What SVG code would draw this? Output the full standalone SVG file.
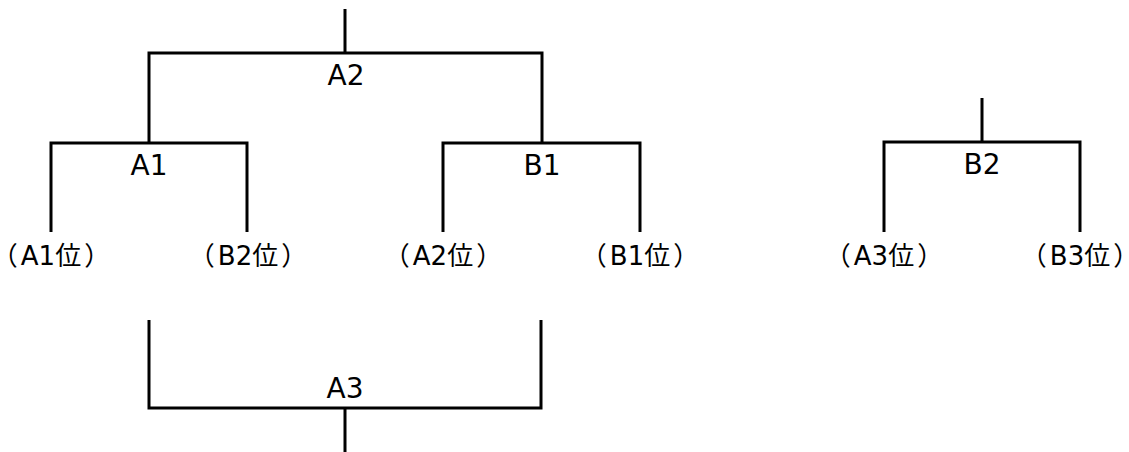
<svg xmlns="http://www.w3.org/2000/svg" width="1129" height="452" viewBox="0 0 1129 452">
<style>
.ln{fill:none;stroke:#000;stroke-width:3;stroke-linecap:butt;stroke-linejoin:miter}
.t{font-family:"DejaVu Sans","Noto Sans CJK JP",sans-serif;font-size:28px;fill:#000;text-anchor:middle}
.p{font-family:"DejaVu Sans","Noto Sans CJK JP",sans-serif;font-size:26px;fill:#000;text-anchor:middle;font-feature-settings:"palt" 1}
</style>
<rect width="1129" height="452" fill="#fff"/>
<g id="connectors">
<path class="ln" d="M345 9V53M149 143V53H542V143"/>
<path class="ln" d="M51 232V143H247V232"/>
<path class="ln" d="M443 232V143H640V232"/>
<path class="ln" d="M149 320V408H541V320M345 408V452"/>
<path class="ln" d="M982 98V142M884 232V142H1080V232"/>
</g>
<g id="node-A2"><text class="t" x="346" y="85">A2</text></g>
<g id="node-A1"><text class="t" x="149" y="175">A1</text></g>
<g id="node-B1"><text class="t" x="542" y="175">B1</text></g>
<g id="node-A3"><text class="t" x="345" y="398">A3</text></g>
<g id="node-B2"><text class="t" x="982" y="174">B2</text></g>
<g id="node-A1pos"><text class="p" x="51" y="265">（<tspan dx="4">A1位</tspan><tspan dx="4">）</tspan></text></g>
<g id="node-B2pos"><text class="p" x="248" y="265">（<tspan dx="4">B2位</tspan><tspan dx="4">）</tspan></text></g>
<g id="node-A2pos"><text class="p" x="443" y="265">（<tspan dx="4">A2位</tspan><tspan dx="4">）</tspan></text></g>
<g id="node-B1pos"><text class="p" x="640" y="265">（<tspan dx="4">B1位</tspan><tspan dx="4">）</tspan></text></g>
<g id="node-A3pos"><text class="p" x="884" y="265">（<tspan dx="4">A3位</tspan><tspan dx="4">）</tspan></text></g>
<g id="node-B3pos"><text class="p" x="1080" y="265">（<tspan dx="4">B3位</tspan><tspan dx="4">）</tspan></text></g>
</svg>
